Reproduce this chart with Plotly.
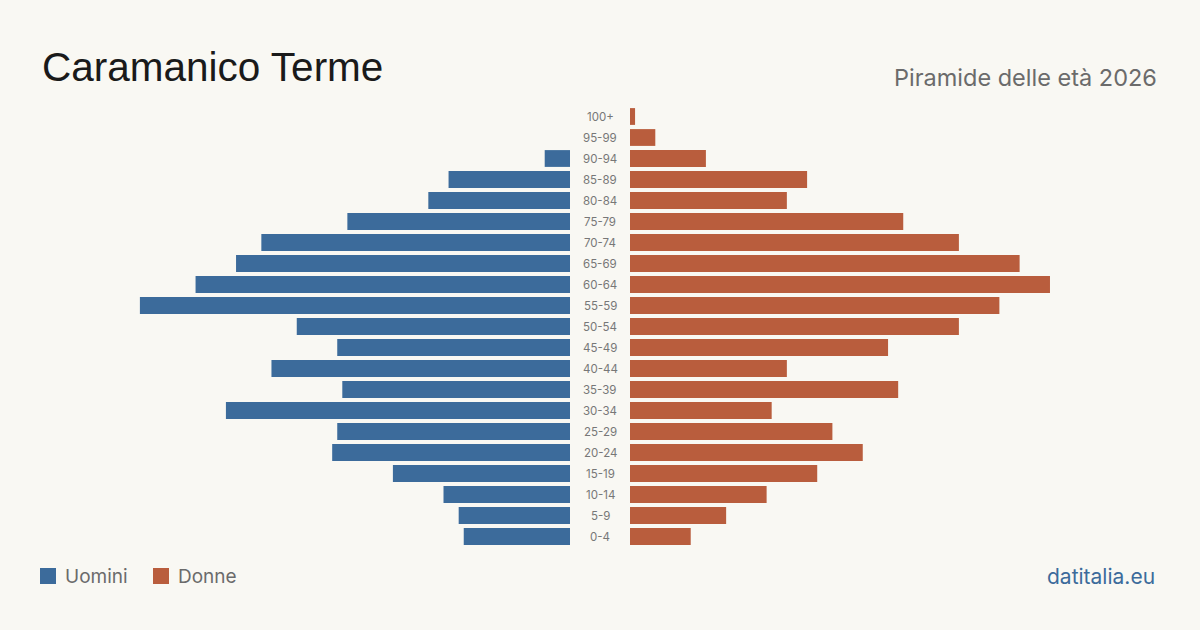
import plotly.graph_objects as go

age_groups = ["0-4", "5-9", "10-14", "15-19", "20-24", "25-29", "30-34", "35-39",
              "40-44", "45-49", "50-54", "55-59", "60-64", "65-69", "70-74", "75-79",
              "80-84", "85-89", "90-94", "95-99", "100+"]
men = [21, 22, 25, 35, 47, 46, 68, 45, 59, 46, 54, 85, 74, 66, 61, 44, 28, 24, 5, 0, 0]
women = [12, 19, 27, 37, 46, 40, 28, 53, 31, 51, 65, 73, 83, 77, 65, 54, 31, 35, 15, 5, 1]

title = "Caramanico Terme"
subtitle = "Piramide delle età 2026"
legend_labels = ["Uomini", "Donne"]
source = "datitalia.eu"

BLUE = "#3c6b9b"
ORANGE = "#b95d3d"
BG = "#f9f8f3"
W, H = 1200, 630
T, B = 106, 83
PH = H - T - B
XMAX = 570 / 5.06


def py(pix):
    """convert a pixel row (from top) to paper y"""
    return (H - B - pix) / PH


def px(pix):
    return pix / W


fig = go.Figure()
fig.add_trace(go.Bar(y=age_groups, x=men, orientation="h", marker=dict(color=BLUE, line_width=0),
                     xaxis="x", yaxis="y", name=legend_labels[0], showlegend=False,
                     hovertemplate="%{y}: %{x}<extra>Uomini</extra>"))
fig.add_trace(go.Bar(y=age_groups, x=women, orientation="h", marker=dict(color=ORANGE, line_width=0),
                     xaxis="x2", yaxis="y", name=legend_labels[1], showlegend=False,
                     hovertemplate="%{y}: %{x}<extra>Donne</extra>"))

annotations = []
for ag in age_groups:
    annotations.append(dict(x=0.5, xref="paper", y=ag, yref="y", text=ag,
                            showarrow=False, xanchor="center", yanchor="middle",
                            font=dict(family="Inter, Liberation Sans, sans-serif", size=11.5, color="#777777")))

annotations += [
    dict(x=px(40), y=py(67), xref="paper", yref="paper", text=title, showarrow=False,
         xanchor="left", yanchor="middle",
         font=dict(family="Liberation Sans, Arial, sans-serif", size=40.5, color="#1a1a1a")),
    dict(x=px(1159), y=py(77), xref="paper", yref="paper", text=subtitle, showarrow=False,
         xanchor="right", yanchor="middle",
         font=dict(family="Inter, sans-serif", size=23.5, color="#6b6b6b")),
    dict(x=px(63), y=py(576), xref="paper", yref="paper", text=legend_labels[0], showarrow=False,
         xanchor="left", yanchor="middle",
         font=dict(family="Inter, sans-serif", size=19, color="#6b6b6b")),
    dict(x=px(176), y=py(576), xref="paper", yref="paper", text=legend_labels[1], showarrow=False,
         xanchor="left", yanchor="middle",
         font=dict(family="Inter, sans-serif", size=19, color="#6b6b6b")),
    dict(x=px(1157), y=py(576), xref="paper", yref="paper", text=source, showarrow=False,
         xanchor="right", yanchor="middle",
         font=dict(family="Inter, sans-serif", size=21, color="#3c6b9b")),
]

shapes = [
    dict(type="rect", xref="paper", yref="paper", x0=px(40), x1=px(56),
         y0=py(584), y1=py(568), fillcolor=BLUE, line_width=0),
    dict(type="rect", xref="paper", yref="paper", x0=px(153), x1=px(169),
         y0=py(584), y1=py(568), fillcolor=ORANGE, line_width=0),
]

fig.update_layout(
    width=W, height=H,
    margin=dict(l=0, r=0, t=T, b=B),
    paper_bgcolor=BG, plot_bgcolor=BG,
    bargap=0.2,
    xaxis=dict(domain=[0, 570 / W], range=[XMAX, 0], visible=False, fixedrange=True),
    xaxis2=dict(domain=[630 / W, 1], range=[0, XMAX], visible=False, fixedrange=True),
    yaxis=dict(categoryorder="array", categoryarray=age_groups, range=[-0.5, 20.5],
               visible=False, fixedrange=True),
    annotations=annotations,
    shapes=shapes,
    showlegend=False,
)

fig.write_html("out.html", config={"displayModeBar": False})
